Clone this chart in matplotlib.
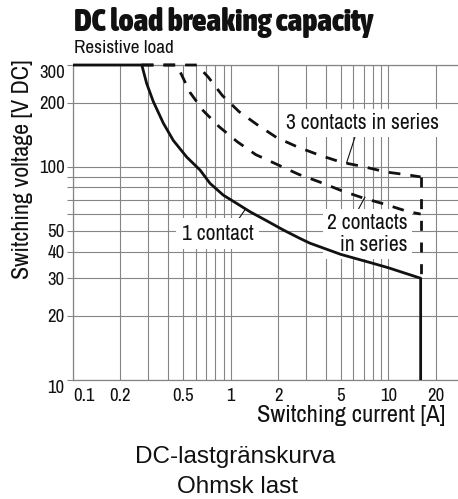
import matplotlib
matplotlib.use("Agg")
import matplotlib.pyplot as plt
from matplotlib import font_manager as fm
from matplotlib.ticker import FixedLocator, NullFormatter

# ---------------- data ----------------
one_contact_I = [0.1, 0.273, 0.293, 0.323, 0.374, 0.432, 0.526, 0.639, 0.739, 0.897,
                 1.091, 1.326, 1.69, 2.157, 2.75, 3.18, 5.0, 8.02, 9.98, 16, 16]
one_contact_V = [300, 300, 246, 202, 160, 133, 111, 96.5, 83.6, 73.6,
                 67.3, 61.5, 55.8, 50.5, 46.1, 43.8, 38.8, 35.2, 33.6, 30, 10]

two_contacts_I = [0.273, 0.455, 0.489, 0.552, 0.67, 0.845, 1.10, 1.44, 1.957, 2.68,
                  3.68, 5.03, 6.93, 9.51, 13.4, 16]
two_contacts_V = [300, 300, 269, 223, 183, 154, 131, 114, 102.7, 92.3,
                  84.7, 77.3, 71.3, 66.7, 61.5, 60]

three_contacts_I = [0.273, 0.611, 0.721, 0.884, 1.132, 1.48, 1.957, 2.64, 3.63, 5.03,
                    6.77, 9.75, 13.5, 16]
three_contacts_V = [300, 300, 263, 216, 181, 157, 137, 124, 113.5, 105,
                    100.5, 94.4, 91.4, 89.6]

limit_I = [16, 16]
limit_V = [89.6, 30]

x_ticks = [0.1, 0.2, 0.5, 1, 2, 5, 10, 20]
x_ticklabels = ["0.1", "0.2", "0.5", "1", "2", "5", "10", "20"]
y_ticks = [10, 20, 30, 40, 50, 100, 200, 300]
y_ticklabels = ["10", "20", "30", "40", "50", "100", "200", "300"]
x_grid = [0.1, 0.2, 0.3, 0.4, 0.5, 0.6, 0.7, 0.8, 0.9, 1, 2, 3, 4, 5, 6, 7, 8, 9, 10, 20]
y_grid = [10, 20, 30, 40, 50, 60, 70, 80, 90, 100, 200, 300]

title = "DC load breaking capacity"
subtitle = "Resistive load"
xlabel = "Switching current [A]"
ylabel = "Switching voltage [V DC]"
caption1 = "DC-lastgränskurva"
caption2 = "Ohmsk last"

# ---------------- fonts ----------------
WMAP = {"ultralight": 200, "light": 300, "normal": 400, "regular": 400, "book": 400,
        "medium": 500, "roman": 400, "semibold": 600, "demibold": 600, "demi": 600,
        "bold": 700, "heavy": 800, "extra bold": 800, "black": 900}


def wnum(w):
    if isinstance(w, (int, float)):
        return int(w)
    return WMAP.get(str(w).lower(), 400)


def is_narrow(f):
    st = f.stretch
    cond = st in ("condensed", "semi-condensed", "extra-condensed", "ultra-condensed",
                  "narrow") or (isinstance(st, (int, float)) and st < 500)
    return "Narrow" in f.name or "Condensed" in f.name or cond


names = sorted({f.name for f in fm.fontManager.ttflist})
REG = "Liberation Sans" if "Liberation Sans" in names else "DejaVu Sans"
narrow_entries = [f for f in fm.fontManager.ttflist
                  if is_narrow(f) and f.style == "normal"
                  and not f.name.startswith("DejaVu")]
narrow = bool(narrow_entries)
if narrow:
    regs = sorted(narrow_entries, key=lambda f: (abs(wnum(f.weight) - 400),
                                                 "Liberation" not in f.name))
    FP_REG = fm.FontProperties(fname=regs[0].fname)
    heavy = sorted(narrow_entries, key=lambda f: -wnum(f.weight))
    FP_BOLD = fm.FontProperties(fname=heavy[0].fname)
    bold_ok = wnum(heavy[0].weight) >= 600
else:
    FP_REG = fm.FontProperties(family=REG)
    FP_BOLD = fm.FontProperties(family=REG, weight="bold")
    bold_ok = True

FS = {
    "title": 22.7 if narrow else 17.2,
    "sub": 13.8 if narrow else 11.7,
    "tick": 13.5 if narrow else 12,
    "ann": 15.5 if narrow else 12.8,
    "xlab": 17.8 if narrow else 14.7,
    "ylab": 17.3 if narrow else 14.9,
}


def fp(base, size):
    p = base.copy()
    p.set_size(size)
    return p


GRID = "#858585"
INK = "#111111"

fig = plt.figure(figsize=(4.58, 4.99), dpi=100)
ax = fig.add_axes([73 / 458, (499 - 380) / 499, (458 - 73) / 458, 315 / 499])
ax.set_xscale("log")
ax.set_yscale("log")
ax.set_xlim(0.1, 27.6)
ax.set_ylim(10, 300)

ax.xaxis.set_major_locator(FixedLocator(x_ticks))
ax.xaxis.set_minor_locator(FixedLocator(x_grid))
ax.yaxis.set_major_locator(FixedLocator(y_ticks))
ax.yaxis.set_minor_locator(FixedLocator(y_grid))
ax.set_xticklabels(x_ticklabels)
ax.set_yticklabels(y_ticklabels)
ax.xaxis.set_minor_formatter(NullFormatter())
ax.yaxis.set_minor_formatter(NullFormatter())
ax.grid(True, which="both", color=GRID, lw=0.8, zorder=0)
ax.set_axisbelow(True)

ax.tick_params(axis="x", which="both", length=0, pad=6, labelcolor=INK)
ax.tick_params(axis="y", which="both", length=4, width=0.8, color=GRID, pad=2,
               labelcolor=INK)
for lab in ax.get_xticklabels() + ax.get_yticklabels():
    lab.set_fontproperties(fp(FP_REG, FS["tick"]))

xt = ax.xaxis.get_major_ticks()
xt[0].label1.set_horizontalalignment("left")
yt = ax.yaxis.get_major_ticks()
yt[0].label1.set_verticalalignment("top")
yt[-1].label1.set_verticalalignment("top")

for s in ("left", "bottom", "top"):
    ax.spines[s].set_color(GRID)
    ax.spines[s].set_linewidth(0.9)
ax.spines["right"].set_visible(False)

# curves
ax.plot(one_contact_I, one_contact_V, color=INK, lw=2.0, solid_capstyle="butt",
        clip_on=False, zorder=5)
dash = (4.2, 3.6)
ax.plot(two_contacts_I, two_contacts_V, color=INK, lw=2.0, dashes=dash,
        clip_on=False, zorder=5)
ax.plot(three_contacts_I, three_contacts_V, color=INK, lw=2.0, dashes=dash,
        clip_on=False, zorder=5)
ax.plot(limit_I, limit_V, color=INK, lw=2.0, dashes=(3.6, 4.2), zorder=5)

# annotations
box = dict(boxstyle="square,pad=0.18", fc="white", ec="none")
AFP = fp(FP_REG, FS["ann"])
ax.annotate("3 contacts in series", xy=(5.42, 104), xytext=(6.85, 161),
            ha="center", va="center", fontproperties=AFP, color=INK,
            bbox=box, zorder=3,
            arrowprops=dict(arrowstyle="-", color=INK, lw=0.8,
                            shrinkA=0, shrinkB=0, relpos=(0.46, 0.0)))
ax.annotate("2 contacts\nin series", xy=(7.1, 72.1), xytext=(13.3, 48.3),
            ha="right", va="center", multialignment="right", linespacing=1.15,
            fontproperties=AFP, color=INK, bbox=box, zorder=3,
            arrowprops=dict(arrowstyle="-", color=INK, lw=0.8,
                            shrinkA=0, shrinkB=0, relpos=(0.36, 1.0)))
ax.annotate("1 contact", xy=(1.24, 63.3), xytext=(0.825, 48.6),
            ha="center", va="center", fontproperties=AFP, color=INK,
            bbox=dict(boxstyle="square,pad=0.25", fc="white", ec="none"), zorder=3,
            arrowprops=dict(arrowstyle="-", color=INK, lw=0.8,
                            shrinkA=0, shrinkB=0, relpos=(0.75, 1.0)))

# axis labels
ax.set_xlabel(xlabel, fontproperties=fp(FP_REG, FS["xlab"]), color=INK, ha="right")
ax.xaxis.set_label_coords((445 - 73) / 385, (380 - 415) / 315)
ax.xaxis.label.set_verticalalignment("center")
ax.set_ylabel(ylabel, fontproperties=fp(FP_REG, FS["ylab"]), color=INK)
ax.yaxis.set_label_coords((22.5 - 73) / 385, (380 - 169) / 315)
ax.yaxis.label.set_verticalalignment("center")

# titles
tfp = fp(FP_BOLD, FS["title"])
if not bold_ok:
    tfp.set_weight("bold")
fig.text(74 / 458, 1 - 30.7 / 499, title, fontproperties=tfp,
         color=INK, ha="left", va="baseline")
fig.text(74 / 458, 1 - 53.3 / 499, subtitle, fontproperties=fp(FP_REG, FS["sub"]),
         color=INK, ha="left", va="baseline")

# captions
fig.text(235 / 458, 1 - 462.7 / 499, caption1, fontsize=17.5, family=REG,
         color=INK, ha="center", va="baseline")
fig.text(237.5 / 458, 1 - 492.7 / 499, caption2, fontsize=17.5, family=REG,
         color=INK, ha="center", va="baseline")

fig.savefig("out.png", dpi=100)
